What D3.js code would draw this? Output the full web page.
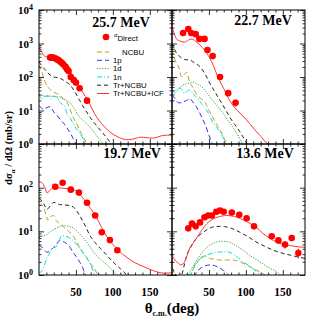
<!DOCTYPE html>
<meta charset="utf-8">
<style>
body { margin: 0; background: #fff; }
text { font-family: "Liberation Serif", "Times New Roman", serif; font-weight: bold; }
.leg { font-family: "Liberation Sans", Arial, sans-serif; font-weight: normal; font-size: 7.8px; }
.axis path { display: none; }
.axis line { stroke: #000; stroke-width: 0.8; }
</style>
<body>
<div id="chart"></div>
<script src="https://d3js.org/d3.v7.min.js"></script>
<script>

// ---- data: [theta (deg), dsigma/dOmega (mb/sr)] ----
var energies = ["25.7 MeV", "22.7 MeV", "19.7 MeV", "13.6 MeV"];
var seriesNames = ["NCBU", "1p", "1d", "1n", "Tr+NCBU", "Tr+NCBU+ICF"];

// 25.7 MeV
var exp257 = [[15,380],[17,385],[19,380],[21,370],[23,350],[25,330],[27,310],[29,285],[31,260],[33,235],[36,200],[38,170],[40,150],[43,100],[47,81],[50,68],[55,46],[65,19.7]];
var icf257 = [[0,735],[3,600],[6,450],[10,400],[15,370],[20,360],[25,320],[30,270],[38,185],[45,120],[50,80],[55,50],[60,33],[66,20],[72,11],[78,6.4],[85,4],[96,2.3],[105,1.7],[112,1.45],[119,1.35],[127,1.4],[132,1.5],[137,1.6],[145,1.55],[154,1.5],[160,1.6],[168,1.8],[180,1.85]];
var tr257 = [[0,280],[5,200],[10,150],[15,115],[20,100],[28,93],[35,75],[42,58],[48,38],[55,20],[62,11],[69,6.4],[76,4],[83,2.6],[90,1.7],[96,1.15],[100,0.9]];
var ncbu257 = [[0,230],[3,160],[6,100],[9,65],[12,50],[15,42],[19,36],[24,32],[28,29],[33,22],[38,17],[42,11],[46,6.4],[50,4.5],[55,2.6],[60,1.6],[65,1.0],[67,0.8]];
var p257 = [[0,14],[3,12],[6,11],[10,12],[15,13],[20,9],[24,7.3],[30,5],[34,4],[38,3],[43,2],[46,1.5],[49,1.1],[51,0.9]];
var d257 = [[0,30],[5,28],[10,26],[15,27],[20,26],[28,25],[35,21],[42,17],[48,11],[55,6.4],[62,4.5],[69,3.2],[76,2],[83,1.3],[88,0.9]];
var n257 = [[0,31],[4,22],[8,26],[12,28],[16,22],[20,27],[24,25],[28,18],[32,15],[35,13],[38,8],[42,6],[46,4.2],[50,3],[55,2.1],[60,1.4],[64,0.9]];

// 22.7 MeV
var exp227 = [[15,2060],[22,2700],[26,2060],[32,1900],[37,1370],[44,1370],[48,640],[55,420],[65,100],[76,33],[86,17]];
var err227 = [0,0,0,0,0,0,0,0,0,0,4];
var icf227 = [[0,3100],[3,2000],[6,1370],[10,1200],[17,1100],[22,1250],[27,1370],[32,1150],[38,900],[44,640],[51,370],[56,220],[62,100],[70,45],[78,20],[85,12],[92,8.4],[100,5.5],[110,3],[120,1.7],[128,1.07],[132,0.9]];
var tr227 = [[0,1040],[3,700],[6,520],[10,420],[13,370],[18,330],[24,320],[30,270],[38,200],[45,120],[51,66],[58,36],[65,20],[72,11],[78,6.4],[85,3.8],[92,2.3],[97,1.5],[101,1.07],[104,0.9]];
var ncbu227 = [[0,640],[4,320],[9,200],[13,100],[17,120],[20,140],[22,100],[24,70],[28,50],[34,29],[40,22],[45,17],[50,10],[55,6.4],[60,4],[65,2.6],[70,1.6],[74,1.0],[76,0.85]];
var p227 = [[0,29],[4,23],[9,17],[12,17],[15,18],[20,20],[24,23],[28,18],[33,13],[38,8],[42,5.2],[46,3.3],[49,2.1],[52,1.4],[54,1.07],[56,0.9]];
var d227 = [[0,36],[5,40],[10,48],[15,58],[20,62],[28,70],[35,60],[42,47],[48,32],[55,20],[62,13],[69,8.4],[76,5],[83,3],[90,1.7],[94,1.15],[97,0.9]];
var n227 = [[0,41],[4,33],[8,40],[11,47],[14,40],[17,33],[21,38],[24,41],[28,32],[33,25],[40,16],[47,10],[51,7],[55,4.5],[60,3.2],[65,2.3],[70,1.4],[72,1.07],[74,0.9]];

// 19.7 MeV
var exp197 = [[22,105],[32,130],[43,90],[54,77],[65,45],[76,23],[85,9.5],[96,6.3],[106,3.7]];
var icf197 = [[0,137],[4,130],[8,100],[11,75],[14,85],[18,98],[24,100],[30,98],[38,95],[45,92],[52,80],[58,62],[64,46],[70,33],[77,22],[84,13],[92,7.5],[100,5],[108,3.6],[118,2.6],[130,1.9],[140,1.6],[150,1.35],[160,1.17],[170,1.1],[180,1.12]];
var tr197 = [[0,56],[4,50],[8,38],[11,32],[15,38],[20,46],[24,44],[28,41],[35,40],[42,39],[48,34],[55,23],[62,14],[69,8],[76,5.5],[83,4.1],[92,2.8],[100,2],[110,1.4],[119,1.0],[122,0.9]];
var ncbu197 = [[0,43],[4,40],[7,33],[10,22],[12,18],[16,22],[20,23],[23,18],[26,16],[30,14],[35,12],[40,10],[46,8],[50,6],[55,4.3],[60,3.2],[65,2.4],[70,1.8],[76,1.3],[80,1.0],[82,0.9]];
var p197 = [[0,4.8],[5,4.2],[11,3.3],[16,3.8],[20,4.3],[24,5.2],[28,6.2],[32,5.9],[37,5.3],[42,4.3],[46,3.3],[50,2.7],[55,2],[59,1.5],[62,1.1],[64,0.95]];
var d197 = [[0,7.3],[5,7.8],[11,8.5],[16,10],[20,11],[24,12],[32,13.6],[40,13],[46,12],[53,9.5],[60,7],[67,5],[74,3.3],[83,2.3],[92,1.7],[98,1.35],[103,1.1],[106,0.95]];
var n197 = [[0,1.1],[3,1.2],[6,1.45],[10,2.3],[15,3.3],[19,4.3],[22,4.3],[26,5.5],[31,8],[36,7.8],[42,7],[48,5.7],[55,4.1],[60,3.2],[65,2.4],[70,1.7],[74,1.17],[77,0.95]];

// 13.6 MeV
var exp136 = [[22,11.7],[27,15],[32,13],[38,16],[44,21],[49,23],[54,23],[60,28],[65,30],[70,28],[81,27],[91,24],[101,20],[111,13],[135,7.7],[144,6.2],[153,5],[162,7],[171,3.2]];
var err136 = [1,1,1,1,1,1,1,1,1,1,1,1,1,1.5,1,1,1,1,0.8];
var icf136 = [[0,2.85],[4,2.2],[8,1.9],[12,1.7],[15,1.8],[18,2.2],[21,3],[24,4.1],[29,5.5],[34,7.3],[40,10.5],[47,15],[54,18.5],[61,21],[68,22.5],[74,23],[81,22.5],[88,21],[97,18],[106,15],[115,12],[123,9],[132,7],[142,5.6],[152,5],[164,4.6],[172,4.4],[180,4.3]];
var tr136 = [[0,1.45],[4,1.1],[7,0.8],[11,0.8],[14,1.1],[17,1.8],[20,2.85],[25,4.2],[29,5.6],[35,7.5],[42,9.5],[50,11.5],[57,12.8],[64,13],[71,12.8],[80,11.8],[92,9.5],[103,7.5],[115,5.6],[126,4.5],[137,3.7],[148,3.2],[160,2.85],[170,2.6],[180,2.4]];
var ncbu136 = [[0,1.4],[3,1.15],[6,0.9],[10,0.6],[18,0.6],[24,0.9],[28,1.3],[33,1.8],[38,2.4],[44,2.7],[51,2.4],[58,2.3],[65,2.2],[75,2.2],[83,2.2],[92,2],[101,1.7],[110,1.4],[119,1.17],[126,1.0],[130,0.9]];
var p136 = [[30,0.9],[33,1.15],[38,1.4],[44,1.6],[51,1.7],[57,1.65],[63,1.5],[70,1.25],[75,1.07],[78,0.95]];
var d136 = [[20,0.9],[23,1.1],[27,1.45],[32,2],[38,2.85],[44,3.8],[51,4.8],[58,5.5],[65,5.9],[72,5.9],[78,5.6],[86,4.8],[96,3.7],[107,2.7],[119,2],[130,1.5],[142,1.17],[147,1.0],[150,0.9]];
var n136 = [[24,0.9],[28,1.3],[31,1.7],[36,2.2],[42,2.6],[50,3],[61,3.3],[70,3.4],[78,3.3],[87,2.7],[96,2],[105,1.6],[115,1.17],[120,1.0],[123,0.9]];

var xTicks = [50, 100, 150];

//-------------------------------------------------------------------------------------

var styles = {
  "NCBU":        {color: "#b3a026", dash: "5,3"},
  "1p":          {color: "#3333dd", dash: "5,3"},
  "1d":          {color: "#3aa83a", dash: "1.2,1.4"},
  "1n":          {color: "#00dcdc", dash: "5,2,1,2"},
  "Tr+NCBU":     {color: "#222222", dash: "4,3"},
  "Tr+NCBU+ICF": {color: "#ff3333", dash: null}
};

var panels = [
  {label: energies[0], x0: 39,  y0: 10,  y1: 144, top: 1e4, exp: exp257, err: null,
   curves: [ncbu257, p257, d257, n257, tr257, icf257], lx: 121, ly: 27},
  {label: energies[1], x0: 172, y0: 10,  y1: 144, top: 1e4, exp: exp227, err: err227,
   curves: [ncbu227, p227, d227, n227, tr227, icf227], lx: 263, ly: 25},
  {label: energies[2], x0: 39,  y0: 144, y1: 275, top: 1e3, exp: exp197, err: null,
   curves: [ncbu197, p197, d197, n197, tr197, icf197], lx: 132, ly: 158},
  {label: energies[3], x0: 172, y0: 144, y1: 275, top: 1e3, exp: exp136, err: err136,
   curves: [ncbu136, p136, d136, n136, tr136, icf136], lx: 265, ly: 158}
];

var W = 315, H = 322, PW = 133;

var svg = d3.select("#chart").append("svg")
  .attr("width", W)
  .attr("height", H);

panels.forEach(function(p, i){
  var x = d3.scaleLinear().domain([0, 180]).range([p.x0, p.x0 + PW]);
  var y = d3.scaleLog().domain([1, p.top]).range([p.y1, p.y0]);

  var g = svg.append("g");

  g.append("clipPath").attr("id", "clip" + i)
    .append("rect")
    .attr("x", p.x0).attr("y", p.y0)
    .attr("width", PW).attr("height", p.y1 - p.y0);

  var plot = g.append("g").attr("clip-path", "url(#clip" + i + ")");

  var line = d3.line()
    .x(function(d){ return x(d[0]); })
    .y(function(d){ return y(Math.max(d[1], 0.05)); })
    .curve(d3.curveMonotoneX);

  p.curves.forEach(function(c, k){
    var s = styles[seriesNames[k]];
    plot.append("path")
      .datum(c)
      .attr("d", line)
      .attr("fill", "none")
      .attr("stroke", s.color)
      .attr("stroke-width", 1)
      .attr("stroke-dasharray", s.dash);
  });

  if(p.err){
    plot.selectAll(".eb").data(p.exp).enter().append("line")
      .attr("x1", function(d){ return x(d[0]); })
      .attr("x2", function(d){ return x(d[0]); })
      .attr("y1", function(d, j){ return y(d[1] + p.err[j]); })
      .attr("y2", function(d, j){ return y(Math.max(d[1] - p.err[j], 0.1)); })
      .attr("stroke", "#ff0000")
      .attr("stroke-width", 1);
  }

  plot.selectAll(".pt").data(p.exp).enter().append("circle")
    .attr("cx", function(d){ return x(d[0]); })
    .attr("cy", function(d){ return y(d[1]); })
    .attr("r", 3.3)
    .attr("fill", "#ff0000");

  // log ticks, inward on both sides
  var majors = y.ticks().filter(function(v){ return Math.abs(Math.log10(v) - Math.round(Math.log10(v))) < 1e-6; });
  var minors = y.ticks().filter(function(v){ return majors.indexOf(v) < 0; });

  [[d3.axisRight, p.x0], [d3.axisLeft, p.x0 + PW]].forEach(function(a){
    g.append("g").attr("class", "axis").attr("transform", "translate(" + a[1] + ",0)")
      .call(a[0](y).tickValues(minors).tickSize(2.5).tickFormat(""));
    g.append("g").attr("class", "axis").attr("transform", "translate(" + a[1] + ",0)")
      .call(a[0](y).tickValues(majors).tickSize(5).tickFormat(""));
  });

  var xmin = d3.range(10, 180, 10).filter(function(v){ return xTicks.indexOf(v) < 0; });
  [[d3.axisTop, p.y1], [d3.axisBottom, p.y0]].forEach(function(a){
    g.append("g").attr("class", "axis").attr("transform", "translate(0," + a[1] + ")")
      .call(a[0](x).tickValues(xmin).tickSize(2.5).tickFormat(""));
    g.append("g").attr("class", "axis").attr("transform", "translate(0," + a[1] + ")")
      .call(a[0](x).tickValues(xTicks).tickSize(5).tickFormat(""));
  });

  g.append("rect")
    .attr("x", p.x0).attr("y", p.y0)
    .attr("width", PW).attr("height", p.y1 - p.y0)
    .attr("fill", "none").attr("stroke", "#000").attr("stroke-width", 1);

  g.append("text")
    .attr("x", p.lx).attr("y", p.ly)
    .attr("text-anchor", "middle")
    .style("font-size", "14px")
    .text(p.label);

  // y tick labels on the left column
  if(p.x0 < 100){
    majors.forEach(function(v){
      if(i == 2 && v == p.top) return;
      var t = g.append("text")
        .attr("x", 33).attr("y", y(v) + 4)
        .attr("text-anchor", "end")
        .style("font-size", "11px");
      t.append("tspan").text("10");
      t.append("tspan").attr("dy", -4.5).style("font-size", "8px").text(Math.round(Math.log10(v)));
    });
  }

  // x tick labels on the bottom row
  if(i >= 2){
    xTicks.forEach(function(v){
      g.append("text")
        .attr("x", x(v)).attr("y", 296)
        .attr("text-anchor", "middle")
        .style("font-size", "11.5px")
        .text(v);
    });
  }
});

// legend in the 25.7 MeV panel
var leg = svg.append("g");
leg.append("circle").attr("cx", 106).attr("cy", 37).attr("r", 3.3).attr("fill", "#ff0000");
var lt = leg.append("text").attr("class", "leg").attr("x", 114).attr("y", 40);
lt.append("tspan").attr("dy", -3).style("font-size", "6px").text("\u03b1");
lt.append("tspan").attr("dy", 4).text("Direct");

seriesNames.forEach(function(n, k){
  var yy = 52 + k * 8.3;
  var s = styles[n];
  leg.append("line")
    .attr("x1", 97).attr("x2", 109).attr("y1", yy).attr("y2", yy)
    .attr("stroke", s.color).attr("stroke-width", 1).attr("stroke-dasharray", s.dash);
  leg.append("text").attr("class", "leg")
    .attr("x", k == 0 ? 122 : 113).attr("y", yy + 2.8)
    .text(n);
});

// axis titles
var yl = svg.append("text")
  .attr("transform", "translate(12,148) rotate(-90)")
  .attr("text-anchor", "middle")
  .style("font-size", "10.5px");
yl.append("tspan").text("d\u03c3");
yl.append("tspan").attr("dy", 2.5).style("font-size", "7px").text("\u03b1");
yl.append("tspan").attr("dy", -2.5).text(" / d\u03a9 (mb/sr)");

var xl = svg.append("text")
  .attr("x", 172).attr("y", 313)
  .attr("text-anchor", "middle")
  .style("font-size", "15px");
xl.append("tspan").text("\u03b8");
xl.append("tspan").attr("dy", 3).style("font-size", "8px").text("c.m.");
xl.append("tspan").attr("dy", -3).text("(deg)");

</script>
